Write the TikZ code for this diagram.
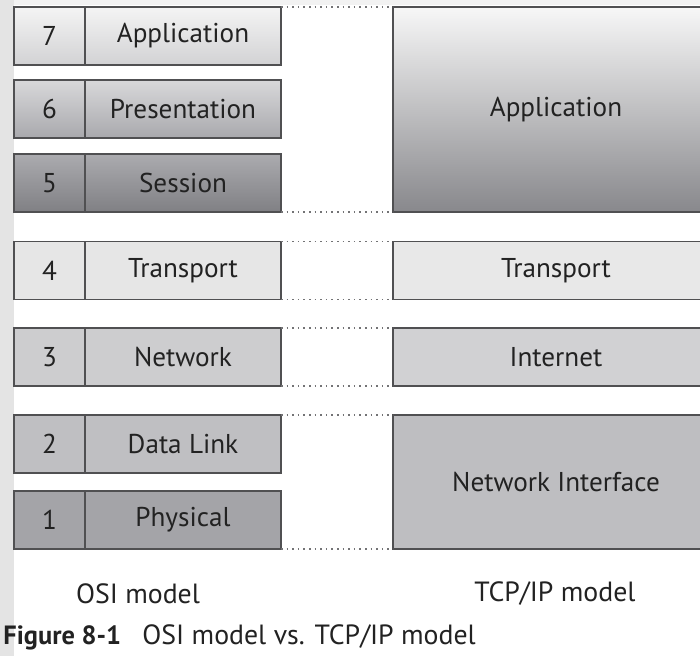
\documentclass[tikz,border=0pt]{standalone}
\usepackage{fontspec}
\setsansfont{PT Sans}
\renewcommand{\familydefault}{\sfdefault}
% Farben
\definecolor{boxline}{HTML}{505052}
\definecolor{txt}{HTML}{222222}
\definecolor{strip}{HTML}{E4E4E4}
\definecolor{topband}{HTML}{F2F2F2}
\definecolor{sevtop}{HTML}{F4F4F4}
\definecolor{sevbot}{HTML}{D2D2D4}
\definecolor{sixtop}{HTML}{D8D8DA}
\definecolor{sixbot}{HTML}{A9A9AD}
\definecolor{fivtop}{HTML}{ABABAF}
\definecolor{fivbot}{HTML}{808084}
\definecolor{four}{HTML}{E6E6E6}
\definecolor{three}{HTML}{CDCDCF}
\definecolor{two}{HTML}{BFBFC2}
\definecolor{one}{HTML}{A4A4A8}
\definecolor{apptop}{HTML}{F7F7F7}
\definecolor{appbot}{HTML}{88888C}
\definecolor{trans}{HTML}{E8E8E8}
\definecolor{inet}{HTML}{D1D1D3}
\definecolor{netif}{HTML}{BEBEC1}
\begin{document}
\begin{tikzpicture}[x=0.5pt,y=-0.5pt,
  layercell/.style={draw=boxline,line width=0.75pt,outer sep=0pt,inner sep=0pt,
    minimum height=29pt,text=txt,font=\fontsize{13.6}{15}\selectfont},
  numcell/.style={layercell,minimum width=35.5pt},
  namecell/.style={layercell,minimum width=98pt},
  tcpcell/.style={layercell,minimum width=163pt},
  gapline/.style={dotted,line width=0.8pt,boxline!80},
  modelname/.style={text=txt,font=\fontsize{13.9}{15}\selectfont}]
%
% Hintergrund mit grauem Rand links
\useasboundingbox (0,0) rectangle (700,656);
\fill[white] (0,0) rectangle (700,656);
\fill[topband] (14,0) rectangle (700,5);
\fill[strip] (0,0) rectangle (14,656);
%
% --- OSI-Modell (links) ---
\begin{scope}
  % Schichten 7 bis 5
  \node[numcell,top color=sevtop,bottom color=sevbot] (n7) at (49.5,36) {7};
  \node[namecell,top color=sevtop,bottom color=sevbot] (l7) at (183,36) {Application};
  \node[numcell,top color=sixtop,bottom color=sixbot] (n6) at (49.5,109) {6};
  \node[namecell,top color=sixtop,bottom color=sixbot] (l6) at (183,109) {Presentation};
  \node[numcell,top color=fivtop,bottom color=fivbot] (n5) at (49.5,183) {5};
  \node[namecell,top color=fivtop,bottom color=fivbot] (l5) at (183,183) {Session};
  % Schichten 4 bis 1
  \node[numcell,fill=four] (n4) at (49.5,270.5) {4};
  \node[namecell,fill=four] (l4) at (183,270.5) {Transport};
  \node[numcell,fill=three] (n3) at (49.5,357) {3};
  \node[namecell,fill=three] (l3) at (183,357) {Network};
  \node[numcell,fill=two] (n2) at (49.5,444) {2};
  \node[namecell,fill=two] (l2) at (183,444) {Data Link};
  \node[numcell,fill=one] (n1) at (49.5,520) {1};
  \node[namecell,fill=one] (l1) at (183,520) {Physical};
  \node[modelname] (osi) at (138,594) {OSI model};
\end{scope}
%
% --- TCP/IP-Modell (rechts, rechter Rand abgeschnitten) ---
\begin{scope}
  \node[tcpcell,minimum height=102.5pt,top color=apptop,bottom color=appbot] (tapp) at (556,109.5) {Application};
  \node[tcpcell,fill=trans] (ttrans) at (556,270.5) {Transport};
  \node[tcpcell,fill=inet] (tinet) at (556,357) {Internet};
  \node[tcpcell,minimum height=67pt,fill=netif] (tnet) at (556,482) {Network Interface};
  \node[modelname] (tcpip) at (555,594) {TCP/IP model};
\end{scope}
%
% gepunktete Verbindungen zwischen den Modellen
\draw[gapline] (l7.north east) -- (tapp.north west);
\draw[gapline] (l5.south east) -- (tapp.south west);
\draw[gapline] (l4.north east) -- (ttrans.north west);
\draw[gapline] (l4.south east) -- (ttrans.south west);
\draw[gapline] (l3.north east) -- (tinet.north west);
\draw[gapline] (l3.south east) -- (tinet.south west);
\draw[gapline] (l2.north east) -- (tnet.north west);
\draw[gapline] (l1.south east) -- (tnet.south west);
%
% Bildunterschrift
\node[modelname,anchor=base west,inner sep=0pt,font=\fontsize{13.2}{15}\selectfont\bfseries] (fignum) at (3,644) {Figure 8-1};
\node[modelname,anchor=base west,inner sep=0pt] (figtext) at (142,644) {OSI model vs. TCP/IP model};
\end{tikzpicture}
\end{document}
